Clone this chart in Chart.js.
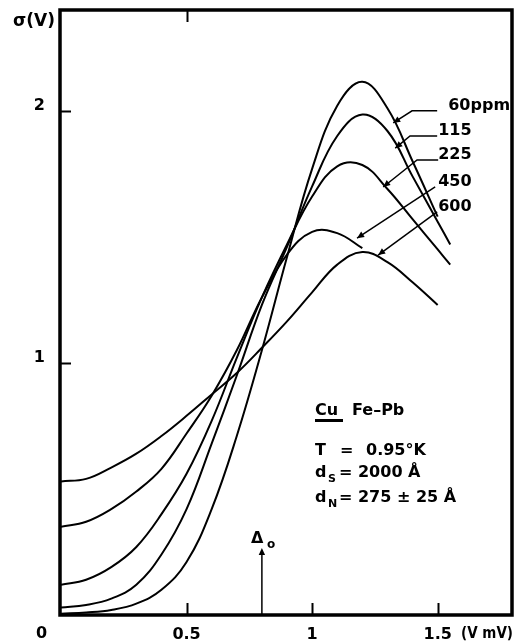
<!DOCTYPE html>
<html>
<head>
<meta charset="utf-8">
<script src="https://cdn.jsdelivr.net/npm/chart.js@4.4.1/dist/chart.umd.min.js"></script>
<style>
  html, body { margin: 0; padding: 0; background: #fff; }
  #wrap { width: 516px; height: 644px; }
</style>
</head>
<body>
<div id="wrap"><canvas id="chart" width="516" height="644"></canvas></div>
<script>
'use strict';

// bias voltage (mV)
const VOLTAGES = [0, 0.1, 0.2, 0.3, 0.4, 0.5, 0.6, 0.7, 0.8, 0.9, 1.0, 1.1, 1.2, 1.3, 1.4, 1.5, 1.55];

// normalized conductance sigma(V) for each Fe concentration
const SIGMA_60  = [0.005, 0.01, 0.02, 0.045, 0.10, 0.21, 0.42, 0.71, 1.05, 1.42, 1.77, 2.02, 2.115, 2.01, 1.80, 1.58, null];
const SIGMA_115 = [0.03, 0.04, 0.065, 0.12, 0.24, 0.42, 0.68, 0.95, 1.23, 1.46, 1.70, 1.90, 1.985, 1.92, 1.74, 1.56, 1.47];
const SIGMA_225 = [0.12, 0.14, 0.19, 0.27, 0.40, 0.56, 0.77, 1.02, 1.26, 1.47, 1.66, 1.78, 1.785, 1.69, 1.57, 1.45, 1.39];
const SIGMA_450 = [0.35, 0.37, 0.42, 0.49, 0.58, 0.72, 0.87, 1.05, 1.26, 1.43, 1.52, 1.515, 1.455, null, null, null, null];
const SIGMA_600 = [0.53, 0.54, 0.585, 0.64, 0.71, 0.79, 0.875, 0.96, 1.06, 1.165, 1.28, 1.39, 1.44, 1.40, 1.32, 1.23, null];

const SERIES_NAMES = ['60ppm', '115', '225', '450', '600'];
const SERIES = [SIGMA_60, SIGMA_115, SIGMA_225, SIGMA_450, SIGMA_600];

const X_TICKS = [0.5, 1, 1.5];
const Y_TICKS = [1, 2];
const DELTA_0 = 0.8;

// leader lines from each label to its curve, in data units (last point = arrow tip)
const LEADERS = [
  [[1.498, 2.0], [1.398, 2.0], [1.323, 1.952]],
  [[1.498, 1.90], [1.390, 1.90], [1.331, 1.852]],
  [[1.502, 1.805], [1.418, 1.805], [1.283, 1.698]],
  [[1.49, 1.698], [1.179, 1.495]],
  [[1.498, 1.599], [1.263, 1.428]],
];
const LABEL_X = [1.542, 1.502, 1.502, 1.502, 1.502];

const FONT = '"DejaVu Sans", sans-serif';

function arrowHead(ctx, x0, y0, x1, y1) {
  const a = Math.atan2(y1 - y0, x1 - x0);
  const len = 7, w = 3.2;
  ctx.beginPath();
  ctx.moveTo(x1, y1);
  ctx.lineTo(x1 - len * Math.cos(a) + w * Math.sin(a), y1 - len * Math.sin(a) - w * Math.cos(a));
  ctx.lineTo(x1 - len * Math.cos(a) - w * Math.sin(a), y1 - len * Math.sin(a) + w * Math.cos(a));
  ctx.closePath();
  ctx.fill();
}

// draw text squeezed to a given width
function fitText(ctx, str, x, y, width) {
  const w = ctx.measureText(str).width;
  ctx.save();
  ctx.translate(x, y);
  ctx.scale(Math.min(1, width / w), 1);
  ctx.fillText(str, 0, 0);
  ctx.restore();
}

const decorations = {
  id: 'decorations',
  afterDraw(chart) {
    const ctx = chart.ctx;
    const { left, right, top, bottom } = chart.chartArea;
    const xs = chart.scales.x, ys = chart.scales.y;
    ctx.save();
    ctx.strokeStyle = '#000';
    ctx.fillStyle = '#000';
    ctx.lineCap = 'square';

    // frame
    ctx.lineWidth = 3.5;
    ctx.beginPath();
    ctx.moveTo(left - 1, top);
    ctx.lineTo(right - 1, top);
    ctx.lineTo(right - 1, bottom);
    ctx.lineTo(left - 1, bottom);
    ctx.closePath();
    ctx.stroke();

    // inward ticks
    ctx.lineWidth = 2;
    ctx.lineCap = 'butt';
    X_TICKS.forEach(v => {
      const px = Math.round(xs.getPixelForValue(v)) + 0.5;
      ctx.beginPath(); ctx.moveTo(px, bottom); ctx.lineTo(px, bottom - 12); ctx.stroke();
    });
    const topTick = Math.round(xs.getPixelForValue(0.5)) + 0.5;
    ctx.beginPath(); ctx.moveTo(topTick, top); ctx.lineTo(topTick, top + 12); ctx.stroke();
    Y_TICKS.forEach(v => {
      const py = Math.round(ys.getPixelForValue(v)) + 0.5;
      ctx.beginPath(); ctx.moveTo(left, py); ctx.lineTo(left + 10, py); ctx.stroke();
    });

    // Delta_0 arrow
    ctx.lineWidth = 1.5;
    const dx = xs.getPixelForValue(DELTA_0);
    const dTip = ys.getPixelForValue(0.266);
    ctx.beginPath(); ctx.moveTo(dx, bottom); ctx.lineTo(dx, dTip + 4); ctx.stroke();
    arrowHead(ctx, dx, bottom, dx, dTip);

    // leaders + series labels
    ctx.lineWidth = 1.5;
    ctx.font = 'bold 16px ' + FONT;
    ctx.textBaseline = 'alphabetic';
    ctx.textAlign = 'left';
    LEADERS.forEach((pts, i) => {
      const p = pts.map(([x, y]) => [xs.getPixelForValue(x), ys.getPixelForValue(y)]);
      ctx.beginPath();
      ctx.moveTo(p[0][0], p[0][1]);
      for (let k = 1; k < p.length; k++) ctx.lineTo(p[k][0], p[k][1]);
      ctx.stroke();
      const n = p.length;
      arrowHead(ctx, p[n - 2][0], p[n - 2][1], p[n - 1][0], p[n - 1][1]);
      ctx.fillText(SERIES_NAMES[i], xs.getPixelForValue(LABEL_X[i]), p[0][1] - 1);
    });

    // axis captions
    ctx.font = 'bold 17px ' + FONT;
    ctx.fillText('σ(V)', 13, 26);
    ctx.font = 'bold 16px ' + FONT;
    ctx.fillText('0', 36, 638);
    ctx.fillText('Δ', 251, 543);
    fitText(ctx, '(V mV)', 461, 638, 52);
    ctx.font = 'bold 12px ' + FONT;
    ctx.fillText('o', 267, 548);

    // sample parameters
    ctx.font = 'bold 16px ' + FONT;
    ctx.fillText('Cu', 315, 415);
    ctx.fillText('Fe–Pb', 352, 415);
    ctx.fillRect(315, 419, 28, 3);
    ctx.fillText('T', 315, 455);
    ctx.fillText('=', 340, 455);
    ctx.fillText('0.95°K', 366, 455);
    ctx.fillText('d', 315, 477);
    ctx.fillText('= 2000 Å', 339, 477);
    ctx.fillText('d', 315, 502);
    ctx.fillText('= 275 ± 25 Å', 339, 502);
    ctx.font = 'bold 11px ' + FONT;
    ctx.fillText('S', 328, 482);
    ctx.fillText('N', 328, 507);

    ctx.restore();
  }
};

new Chart(document.getElementById('chart'), {
  type: 'line',
  data: {
    datasets: SERIES.map((vals, i) => ({
      label: SERIES_NAMES[i],
      data: VOLTAGES.map((v, k) => ({ x: v, y: vals[k] })).filter(p => p.y !== null),
      borderColor: '#000',
      borderWidth: 2,
      pointRadius: 0,
      fill: false,
      tension: 0.4,
    })),
  },
  options: {
    responsive: false,
    animation: false,
    devicePixelRatio: 1,
    layout: { padding: { left: 6, right: 3, top: 10, bottom: 0 } },
    plugins: { legend: { display: false }, tooltip: { enabled: false } },
    scales: {
      x: {
        type: 'linear',
        min: 0,
        max: 1.8,
        afterBuildTicks: s => { s.ticks = X_TICKS.map(v => ({ value: v })); },
        afterFit: s => { s.height = 29; s.paddingLeft = 0; s.paddingRight = 0; },
        grid: { display: false, drawTicks: false },
        border: { display: false },
        ticks: {
          color: '#000',
          padding: 10,
          maxRotation: 0,
          font: { family: FONT, size: 16, weight: 'bold' },
          callback: v => String(v),
        },
      },
      y: {
        type: 'linear',
        min: 0,
        max: 2.4,
        afterBuildTicks: s => { s.ticks = Y_TICKS.map(v => ({ value: v })); },
        afterFit: s => { s.width = 55; s.paddingTop = 0; s.paddingBottom = 0; },
        grid: { display: false, drawTicks: false },
        border: { display: false },
        ticks: {
          color: '#000',
          padding: 16,
          labelOffset: -5,
          font: { family: FONT, size: 16, weight: 'bold' },
          callback: v => String(v),
        },
      },
    },
  },
  plugins: [decorations],
});
</script>
</body>
</html>
